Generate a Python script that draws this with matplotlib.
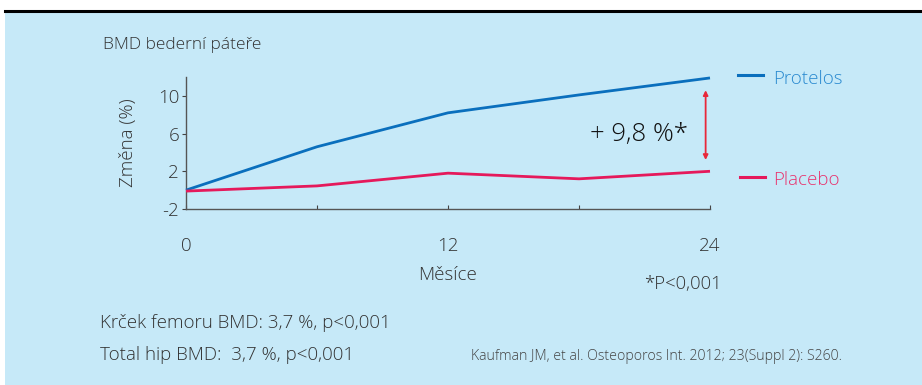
import matplotlib.pyplot as plt
from matplotlib.patches import Rectangle
from matplotlib.lines import Line2D

plt.rcParams['font.family'] = ['Open Sans', 'DejaVu Sans']
plt.rcParams['font.weight'] = 'light'
plt.rcParams['axes.labelweight'] = 'light'
plt.rcParams['axes.unicode_minus'] = False

# data
months = [0, 6, 12, 18, 24]
protelos = [0.0, 4.6, 8.2, 10.1, 11.9]
placebo = [-0.1, 0.45, 1.8, 1.2, 2.0]
y_ticks = [-2, 2, 6, 10]
x_ticks = [0, 6, 12, 18, 24]
x_ticklabels = ['0', '', '12', '', '24']

blue = '#0a6fbd'
pink = '#e5195b'
bg = '#c6e9f8'
txt = '#333333'

fig = plt.figure(figsize=(9.22, 3.85), dpi=100, facecolor='white')

# background panel + top black rule
fig.patches.append(Rectangle((5 / 922, 0), 1, 1 - 12 / 385, transform=fig.transFigure,
                             facecolor=bg, edgecolor='none', zorder=-10))
fig.lines.append(Line2D([5 / 922, 1], [1 - 11 / 385] * 2, transform=fig.transFigure,
                        color='black', lw=2.2))

ax = fig.add_axes([186 / 922, 1 - 209 / 385, (710 - 186) / 922, (209 - 77) / 385])
ax.set_facecolor('none')
ax.set_zorder(2)

ax.plot(months, protelos, color=blue, lw=2, solid_capstyle='butt', zorder=3, clip_on=False)
ax.plot(months, placebo, color=pink, lw=2, solid_capstyle='butt', zorder=3, clip_on=False)

ax.set_xlim(0, 24)
ax.set_ylim(-2, 12)
ax.set_xticks(x_ticks)
ax.set_xticklabels(x_ticklabels)
ax.set_yticks(y_ticks)
ax.tick_params(axis='x', direction='in', length=3, pad=20, labelsize=13.5, colors='#444444',
               labelcolor=txt)
ax.tick_params(axis='y', direction='out', length=3, pad=2, labelsize=13.5, colors='#444444',
               labelcolor=txt)
for s in ['top', 'right']:
    ax.spines[s].set_visible(False)
for s in ['left', 'bottom']:
    ax.spines[s].set_color('#555555')
    ax.spines[s].set_linewidth(1)

ax.set_ylabel('Změna (%)', fontsize=13.5, color=txt, labelpad=15)
ax.set_xlabel('Měsíce', fontsize=13.5, color=txt, labelpad=8)

# difference arrow
ax.annotate('', xy=(23.8, placebo[-1] + 1.2), xytext=(23.8, protelos[-1] - 1.3),
            arrowprops=dict(arrowstyle='<|-|>', color='#e8283a', lw=1.3,
                            mutation_scale=7, shrinkA=0, shrinkB=0))
ax.text(23.0, 5.9, '+ 9,8 %*', fontsize=18.5, color='#111111', ha='right', va='center')

# legend-like labels on the right
fig.lines.append(Line2D([738 / 922, 763 / 922], [1 - 75 / 385] * 2, transform=fig.transFigure,
                        color=blue, lw=2.2))
fig.text(773 / 922, 1 - 79 / 385, 'Protelos', fontsize=13.5, color='#2a8ad0', va='center')
fig.lines.append(Line2D([740 / 922, 765 / 922], [1 - 177 / 385] * 2, transform=fig.transFigure,
                        color=pink, lw=2.2))
fig.text(773 / 922, 1 - 180 / 385, 'Placebo', fontsize=13.5, color='#e8336e', va='center')

fig.text(103 / 922, 1 - 45 / 385, 'BMD bederní páteře', fontsize=12.5, color=txt, va='center')
fig.text(683 / 922, 1 - 284 / 385, '*P<0,001', fontsize=13.3, color=txt, ha='center', va='center')
fig.text(100 / 922, 1 - 323 / 385, 'Krček femoru BMD: 3,7 %, p<0,001', fontsize=13.5,
         color=txt, va='center')
fig.text(100 / 922, 1 - 355 / 385, 'Total hip BMD:  3,7 %, p<0,001', fontsize=13.5,
         color=txt, va='center')
fig.text(471 / 922, 1 - 356 / 385, 'Kaufman JM, et al. Osteoporos Int. 2012; 23(Suppl 2): S260.',
         fontsize=10.15, color='#444444', va='center')

fig.savefig('out.png', dpi=100, facecolor=fig.get_facecolor())
